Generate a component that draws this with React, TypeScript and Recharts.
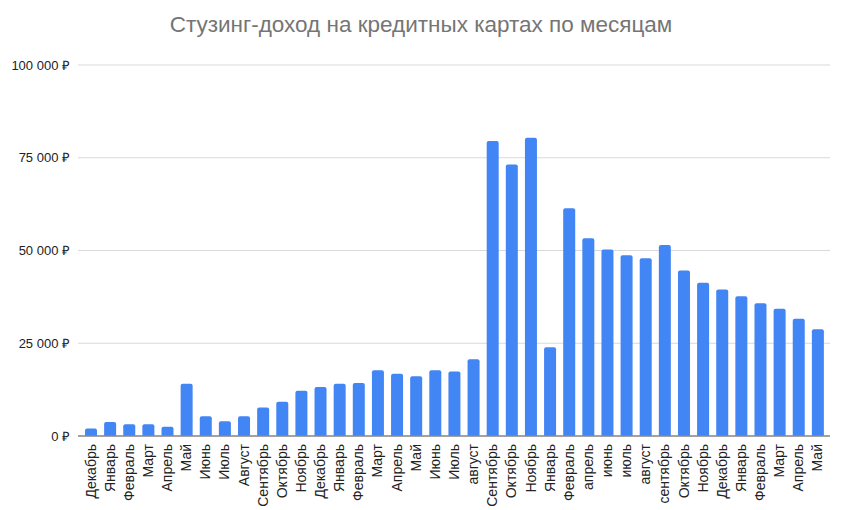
import React from "react";
import { BarChart, Bar, XAxis, YAxis, CartesianGrid } from "recharts";

const months = [
  "Декабрь", "Январь", "Февраль", "Март", "Апрель", "Май", "Июнь", "Июль", "Август",
  "Сентябрь", "Октябрь", "Ноябрь", "Декабрь", "Январь", "Февраль", "Март", "Апрель",
  "Май", "Июнь", "Июль", "август", "Сентябрь", "Октябрь", "Ноябрь", "Январь",
  "Февраль", "апрель", "июнь", "июль", "август", "сентябрь", "Октябрь", "Ноябрь",
  "Декабрь", "Январь", "Февраль", "Март", "Апрель", "Май",
];

const income = [
  2000, 3800, 3200, 3200, 2500, 14100, 5300, 4000, 5300, 7700, 9200, 12200, 13200,
  14100, 14300, 17700, 16800, 16100, 17700, 17400, 20700, 79500, 73200, 80400, 23900,
  61400, 53300, 50300, 48700, 47900, 51500, 44600, 41300, 39500, 37700, 35800, 34300,
  31600, 28800,
];

const yTicks = [0, 25000, 50000, 75000, 100000];

const title = "Стузинг-доход на кредитных картах по месяцам";

const data = months.map((m, i) => ({ idx: i, month: m, value: income[i] }));

const FONT = '"Liberation Sans", Arial, sans-serif';

const fmt = (v: number) => {
  const s = String(v).replace(/\B(?=(\d{3})+(?!\d))/g, " ");
  return `${s} ₽`;
};

const XTick = (props: any) => {
  const { x, y, payload } = props;
  return (
    <text
      x={x}
      y={y}
      transform={`rotate(-90, ${x}, ${y})`}
      textAnchor="end"
      dominantBaseline="central"
      fontSize={14}
      fontFamily={FONT}
      fill="#222"
    >
      {months[payload.value]}
    </text>
  );
};

export default function App() {
  return (
    <div style={{ position: "absolute", left: 0, top: 0, width: 854, height: 510, background: "#fff" }}>
      <div
        style={{
          position: "absolute",
          left: 0,
          width: 842,
          top: 12,
          textAlign: "center",
          fontFamily: FONT,
          fontSize: 22.5,
          color: "#757575",
          whiteSpace: "nowrap",
        }}
      >
        {title}
      </div>
      <BarChart
        width={854}
        height={510}
        data={data}
        margin={{ top: 65, right: 24, left: 0, bottom: 0 }}
        barCategoryGap={7}
      >
        <CartesianGrid vertical={false} stroke="#d9d9d9" />
        <XAxis
          dataKey="idx"
          type="category"
          interval={0}
          height={74}
          tick={<XTick />}
          tickLine={false}
          axisLine={{ stroke: "#8a8a8a", strokeWidth: 1.5 }}
          padding={{ left: 3, right: 3 }}
          tickMargin={2}
        />
        <YAxis
          width={78}
          domain={[0, 100000]}
          ticks={yTicks}
          tickFormatter={fmt}
          axisLine={false}
          tickLine={false}
          tick={{ fontSize: 13, fill: "#222", fontFamily: FONT }}
        />
        <Bar dataKey="value" fill="#4285f4" barSize={12} radius={[2, 2, 0, 0]} isAnimationActive={false} />
      </BarChart>
    </div>
  );
}
